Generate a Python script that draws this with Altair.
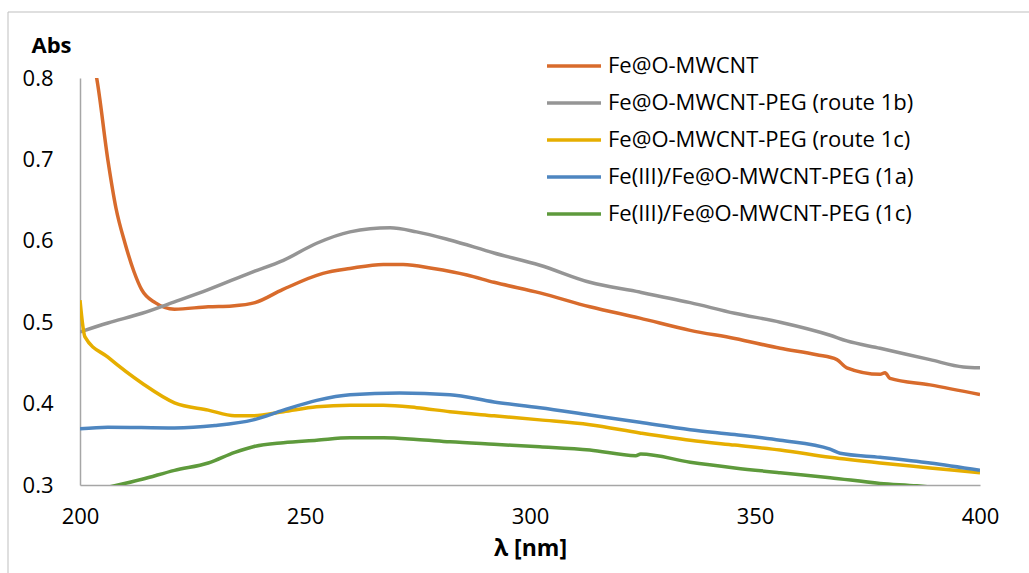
import altair as alt
import pandas as pd

series_names = [
    "Fe@O-MWCNT",
    "Fe@O-MWCNT-PEG (route 1b)",
    "Fe@O-MWCNT-PEG (route 1c)",
    "Fe(III)/Fe@O-MWCNT-PEG (1a)",
    "Fe(III)/Fe@O-MWCNT-PEG (1c)",
]
series_colors = ["#D86B2C", "#959595", "#E6AE00", "#4E86C0", "#5E9A3C"]

wl_orange = [202, 203.7, 206.2, 208, 210, 212, 213.7, 216.7, 221, 228.5, 233.8, 238.9, 245, 254, 260,
             267.4, 271.8, 278.5, 286, 292, 302.2, 313.3, 324.4, 335.6, 345.5, 355.6, 363.7, 368.2,
             370.4, 377.8, 378.9, 380, 388.9, 400]
abs_orange = [0.84, 0.80, 0.699, 0.64, 0.597, 0.562, 0.540, 0.524, 0.516, 0.519, 0.520, 0.524, 0.540,
              0.560, 0.566, 0.571, 0.571, 0.566, 0.558, 0.549, 0.536, 0.519, 0.505, 0.490, 0.480, 0.468,
              0.460, 0.454, 0.444, 0.436, 0.438, 0.431, 0.423, 0.411]

wl_gray = [200, 206.2, 213.8, 221, 228.5, 238, 245.2, 252.6, 260, 268.9, 274.8, 282.2, 292, 302.2,
           313.3, 324.4, 335.6, 345.5, 355.6, 366.7, 370.4, 377.8, 388.9, 396.3, 400]
abs_gray = [0.488, 0.499, 0.511, 0.525, 0.540, 0.561, 0.576, 0.597, 0.611, 0.616, 0.611, 0.601, 0.585,
            0.570, 0.549, 0.537, 0.524, 0.511, 0.500, 0.484, 0.477, 0.468, 0.454, 0.445, 0.444]

wl_yellow = [200, 201.1, 206.2, 213.8, 221, 228.5, 234.4, 238.5, 245.2, 252.6, 260, 267.4, 274.8,
             282.2, 292, 302.2, 313.3, 324.4, 335.6, 345.5, 355.6, 366.7, 377.8, 388.9, 400]
abs_yellow = [0.527, 0.482, 0.457, 0.425, 0.401, 0.392, 0.385, 0.385, 0.390, 0.396, 0.398, 0.398,
              0.395, 0.390, 0.385, 0.380, 0.374, 0.364, 0.355, 0.349, 0.343, 0.334, 0.327, 0.321, 0.315]

wl_blue = [200, 206.2, 221, 230, 238.5, 245.2, 252.6, 260, 271, 282.2, 292, 302.2, 313.3, 324.4,
           335.6, 345.5, 355.6, 366.7, 368.9, 377.8, 388.9, 400]
abs_blue = [0.369, 0.371, 0.370, 0.373, 0.380, 0.392, 0.404, 0.411, 0.413, 0.411, 0.402, 0.395, 0.386,
            0.377, 0.368, 0.362, 0.355, 0.344, 0.339, 0.334, 0.327, 0.318]

wl_green = [206, 213.8, 221, 228.5, 234.4, 238.5, 245.2, 252.6, 260, 267.4, 274.8, 282.2, 292, 302.2,
            313.3, 323.5, 324.6, 335.6, 345.5, 355.6, 366.7, 377.8, 386, 390]
abs_green = [0.297, 0.307, 0.318, 0.327, 0.340, 0.347, 0.352, 0.355, 0.358, 0.358, 0.356, 0.353, 0.350,
             0.347, 0.343, 0.336, 0.338, 0.328, 0.321, 0.315, 0.309, 0.302, 0.299, 0.297]

x_ticks = [200, 250, 300, 350, 400]
y_ticks = [0.3, 0.4, 0.5, 0.6, 0.7, 0.8]

rows = []
for name, wls, vals in zip(series_names,
                           [wl_orange, wl_gray, wl_yellow, wl_blue, wl_green],
                           [abs_orange, abs_gray, abs_yellow, abs_blue, abs_green]):
    for w, v in zip(wls, vals):
        rows.append({"series": name, "wl": w, "abs": v})
df = pd.DataFrame(rows)

FONT = "Open Sans"

lines = alt.Chart(df).mark_line(strokeWidth=3.5, clip=True, interpolate="monotone").encode(
    x=alt.X("wl:Q", scale=alt.Scale(domain=[200, 400], nice=False),
            axis=alt.Axis(values=x_ticks, title="λ [nm]", labelPadding=21, titlePadding=10,
                          labelFlush=False, labelFontSize=22, titleFontSize=23,
                          titleFontWeight="bold")),
    y=alt.Y("abs:Q", scale=alt.Scale(domain=[0.3, 0.8], nice=False, zero=False),
            axis=alt.Axis(values=y_ticks, format=".1f", title="Abs", labelPadding=27,
                          labelFontSize=22, titleFontSize=22, titleFontWeight="bold",
                          titleAngle=0, titleX=-49, titleY=-26, titleAlign="left",
                          titleBaseline="alphabetic")),
    color=alt.Color("series:N", sort=series_names,
                    scale=alt.Scale(domain=series_names, range=series_colors),
                    legend=alt.Legend(title=None, orient="none", legendX=465, legendY=-23,
                                      symbolType="M-1,0H5", symbolSize=324, symbolStrokeWidth=3.5,
                                      labelFontSize=22, labelOffset=41, rowPadding=15, padding=0,
                                      labelLimit=500)),
    order=alt.value(0),
)

frame = alt.Chart(pd.DataFrame({"k": [0]})).mark_rect(
    fill=None, stroke="#BFBFBF", strokeWidth=1, clip=False
).encode(x=alt.value(-72), x2=alt.value(1000), y=alt.value(-66), y2=alt.value(600))

chart = alt.layer(frame, lines).properties(
    width=900, height=407,
    autosize=alt.AutoSizeParams(type="none"),
    padding={"left": 80, "top": 78, "right": 49, "bottom": 88},
).configure_view(stroke=None).configure_axis(
    grid=False, ticks=False, domainColor="#A6A6A6", domainWidth=1.5,
    labelFont=FONT, titleFont=FONT, labelColor="#000000", titleColor="#000000",
).configure_legend(labelFont=FONT, labelColor="#000000")

chart.save("out.html", embed_options={"renderer": "svg", "actions": False})
